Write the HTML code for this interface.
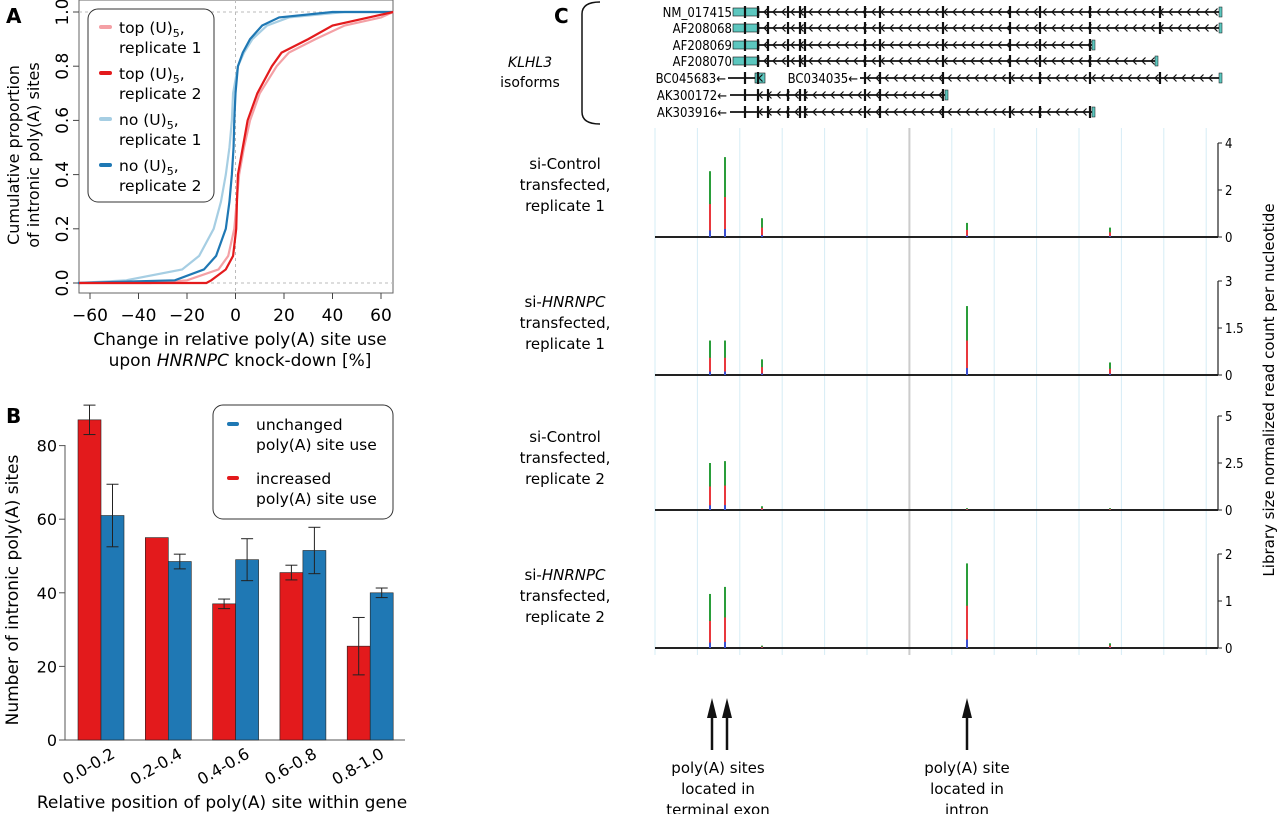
<!DOCTYPE html>
<html><head><meta charset="utf-8"><style>
html,body{margin:0;padding:0;background:#fff}
svg{display:block;font-family:"DejaVu Sans","Liberation Sans",sans-serif}
.c{font-family:"DejaVu Sans Condensed","Liberation Sans Narrow","Liberation Sans",sans-serif}
</style></head><body>
<svg id="fig" width="1280" height="814" viewBox="0 0 1280 814" xmlns="http://www.w3.org/2000/svg">
<g id="pA"></g>
<g id="pB"></g>
<g id="pC"></g>
</svg>
<script>
// ---------- Panel A data ----------
const cdfLevels=[0,0.01,0.05,0.1,0.2,0.3,0.4,0.5,0.6,0.7,0.8,0.85,0.9,0.95,0.98,1.0];
const topRep1X=[-35,-20,-7,-3,-0.5,0.5,1.5,3.5,6,10,17,22,33,45,60,65];
const topRep2X=[-12,-10,-4,-1,0.3,0.6,1,3,5,9,15,19,30,40,55,65];
const noRep1X=[-65,-45,-22,-15,-9,-6,-4,-2.5,-1.5,-1,1,3.5,7,13,22,45];
const noRep2X=[-65,-25,-13,-8,-4,-2.5,-1.5,-0.8,-0.5,0,1,3,6,11,18,40];
const aXTicks=[-60,-40,-20,0,20,40,60];
const aYTicks=[0,0.2,0.4,0.6,0.8,1.0];
// ---------- Panel B data ----------
const bCategories=["0.0-0.2","0.2-0.4","0.4-0.6","0.6-0.8","0.8-1.0"];
const increasedVals=[87,55,37,45.5,25.5];
const increasedErr=[4,0,1.3,2,7.8];
const unchangedVals=[61,48.5,49,51.5,40];
const unchangedErr=[8.5,2,5.7,6.3,1.3];
const bYTicks=[0,20,40,60,80];
// ---------- Panel C data ----------
const isoformNames=["NM_017415","AF208068","AF208069","AF208070","BC045683","AK300172","AK303916"];
const trackMax=[4,3,5,2];
const trackTickLabels=[["0","2","4"],["0","1.5","3"],["0","2.5","5"],["0","1","2"]];
const peakPos=[710,725,762,967,1110];
const track1Vals=[2.8,3.4,0.8,0.6,0.4];
const track2Vals=[1.1,1.1,0.5,2.2,0.4];
const track3Vals=[2.5,2.6,0.2,0.1,0.1];
const track4Vals=[1.15,1.3,0.05,1.8,0.1];

const NS="http://www.w3.org/2000/svg";
function mk(parent,tag,attrs,text){const e=document.createElementNS(NS,tag);for(const k in attrs)e.setAttribute(k,attrs[k]);if(text!==undefined)e.textContent=text;parent.appendChild(e);return e;}

// ===== Panel A =====
const A=document.getElementById('pA');
const ax=v=>90+(v+60)*(291/120), ay=v=>283-v*271;
let t=mk(A,'text',{x:6,y:23,'font-size':20,'font-weight':'bold'},'A');

let r=mk(A,'rect',{x:79,y:0,width:314,height:293,fill:'none',stroke:'#666','stroke-width':1});

[ay(0),ay(1)].forEach(y=>{const l=mk(A,'line',{x1:79,x2:393,y1:y,y2:y,stroke:'#bbb','stroke-dasharray':'3,3'});});
let vl=mk(A,'line',{x1:ax(0),x2:ax(0),y1:0,y2:293,stroke:'#bbb','stroke-dasharray':'3,3'});

aXTicks.forEach(v=>{mk(A,'line',{x1:ax(v),x2:ax(v),y1:293,y2:299,stroke:'#444'});const tx=mk(A,'text',{x:ax(v),y:321,'font-size':17,'text-anchor':'middle'},v<0?'\u2212'+(-v):String(v));});
aYTicks.forEach(v=>{mk(A,'line',{x1:73,x2:79,y1:ay(v),y2:ay(v),stroke:'#444'});const tx=mk(A,'text',{x:0,y:0,'font-size':17,'text-anchor':'middle',transform:`translate(68,${ay(v)}) rotate(-90)`},v.toFixed(1));});
t=mk(A,'text',{'font-size':16,'text-anchor':'middle',transform:'translate(19,155) rotate(-90)'},'Cumulative proportion');

t=mk(A,'text',{'font-size':16,'text-anchor':'middle',transform:'translate(39,155) rotate(-90)'},'of intronic poly(A) sites');

t=mk(A,'text',{x:240,y:345,'font-size':17,'text-anchor':'middle'},'Change in relative poly(A) site use');

t=mk(A,'text',{x:240,y:366,'font-size':17,'text-anchor':'middle'});
t.innerHTML='upon <tspan font-style="italic">HNRNPC</tspan> knock-down [%]';

const series=[[noRep1X,'#a6cee3','no-u5-rep1'],[topRep1X,'#f4a0a5','top-u5-rep1'],[noRep2X,'#1f78b4','no-u5-rep2'],[topRep2X,'#e31a1c','top-u5-rep2']];
series.forEach(([xs,col,nm])=>{let d='M79,'+ay(0);xs.forEach((x,i)=>{d+=` L${ax(x)},${ay(cdfLevels[i])}`;});d+=` L393,${ay(1)}`;const p=mk(A,'path',{d:d,fill:'none',stroke:col,'stroke-width':2.2});});
let lg=mk(A,'g',{});
mk(lg,'rect',{x:88,y:9,width:126,height:193,rx:10,fill:'#fff',stroke:'#333'});
[['top (U)','replicate 1','#f4a0a5'],['top (U)','replicate 2','#e31a1c'],['no (U)','replicate 1','#a6cee3'],['no (U)','replicate 2','#1f78b4']].forEach((e,i)=>{const y=27+i*46;const g=mk(lg,'g',{});mk(g,'line',{x1:101,x2:110,y1:y,y2:y,stroke:e[2],'stroke-width':4,'stroke-linecap':'round'});const tt=mk(g,'text',{x:119,y:y+6,'font-size':15.5});tt.innerHTML=e[0]+'<tspan font-size="11" dy="4">5</tspan><tspan dy="-4">,</tspan>';mk(g,'text',{x:119,y:y+26,'font-size':15.5},e[1]);});

// ===== Panel B =====
const B=document.getElementById('pB');
const by=v=>740-v*3.68;
t=mk(B,'text',{x:6,y:423,'font-size':20,'font-weight':'bold'},'B');

mk(B,'line',{x1:65,x2:65,y1:445,y2:740,stroke:'#555'});
mk(B,'line',{x1:65,x2:405,y1:740,y2:740,stroke:'#555'});
bYTicks.forEach(v=>{mk(B,'line',{x1:59,x2:65,y1:by(v),y2:by(v),stroke:'#555'});const tx=mk(B,'text',{x:57,y:by(v)+6,'font-size':16,'text-anchor':'end'},String(v));});
bCategories.forEach((c,i)=>{const x0=78+i*67.3;
 [[increasedVals,increasedErr,'#e31a1c',x0,'increased'],[unchangedVals,unchangedErr,'#1f78b4',x0+23,'unchanged']].forEach(([vals,err,col,x,nm])=>{const b=mk(B,'rect',{x:x,y:by(vals[i]),width:23,height:740-by(vals[i]),fill:col,stroke:'#222','stroke-width':0.6});
 if(err[i]>0){const cx=x+11.5;const g=mk(B,'g',{stroke:'#222','stroke-width':1});mk(g,'line',{x1:cx,x2:cx,y1:by(vals[i]+err[i]),y2:by(vals[i]-err[i])});mk(g,'line',{x1:cx-6,x2:cx+6,y1:by(vals[i]+err[i]),y2:by(vals[i]+err[i])});mk(g,'line',{x1:cx-6,x2:cx+6,y1:by(vals[i]-err[i]),y2:by(vals[i]-err[i])});}});
 const tx=mk(B,'text',{'font-size':16,'text-anchor':'end',transform:`translate(${x0+38},${757}) rotate(-30)`},c);});
t=mk(B,'text',{x:222,y:808,'font-size':17,'text-anchor':'middle'},'Relative position of poly(A) site within gene');

t=mk(B,'text',{'font-size':17,'text-anchor':'middle',transform:'translate(18,590) rotate(-90)'},'Number of intronic poly(A) sites');

lg=mk(B,'g',{});
mk(lg,'rect',{x:213,y:405,width:180,height:114,rx:10,fill:'#fff',stroke:'#333'});
[['unchanged','#1f78b4',424],['increased','#e31a1c',478]].forEach(([w,col,y])=>{mk(lg,'line',{x1:229,x2:237,y1:y,y2:y,stroke:col,'stroke-width':4,'stroke-linecap':'round'});mk(lg,'text',{x:256,y:y+6,'font-size':15.5},w);mk(lg,'text',{x:256,y:y+26,'font-size':15.5},'poly(A) site use');});

// ===== Panel C =====
const C=document.getElementById('pC');
t=mk(C,'text',{x:554,y:23,'font-size':20,'font-weight':'bold'},'C');

t=mk(C,'path',{d:'M600,2 Q582,2 582,14 L582,112 Q582,124 600,124',fill:'none',stroke:'#111','stroke-width':1.5});

t=mk(C,'text',{x:530,y:67,'font-size':14,'text-anchor':'middle','font-style':'italic'},'KLHL3');

t=mk(C,'text',{x:530,y:87,'font-size':14,'text-anchor':'middle'},'isoforms');

for(let i=0;i<14;i++){const x=655+i*42.4;const l=mk(C,'line',{x1:x,x2:x,y1:128,y2:655,stroke:i==6?'#ccc':'#d6ecf6','stroke-width':i==6?2:1});}
const isoY=[12,28,45,61,78,95,112];
const isoStart=[735,735,735,735,730,730,730];
const isoEnd=[1222,1222,1095,1158,1222,948,1095];
const exonX=[745,758,768,788,800,805,865,880,943,1010,1040,1090,1160];
isoformNames.forEach((n,i)=>{const g=mk(C,'g',{class:'c'});const y=isoY[i];
 if(i==4){mk(g,'text',{x:726,y:y+5,'font-size':13,'text-anchor':'end'},n+'←');mk(g,'line',{x1:728,x2:762,y1:y,y2:y,stroke:'#111','stroke-width':1.8});mk(g,'rect',{x:755,y:y-5,width:10,height:10,fill:'#5cc7bf',stroke:'#111','stroke-width':0.6});mk(g,'text',{x:858,y:y+5,'font-size':13,'text-anchor':'end'},'BC034035←');mk(g,'line',{x1:860,x2:1222,y1:y,y2:y,stroke:'#111','stroke-width':1.8});}
 else{mk(g,'text',{x:isoStart[i]-3,y:y+5,'font-size':13,'text-anchor':'end'},n+(i<4?'':'←'));mk(g,'line',{x1:isoStart[i],x2:isoEnd[i],y1:y,y2:y,stroke:'#111','stroke-width':1.8});}
 if(i<4)mk(g,'rect',{x:733,y:y-4,width:26,height:8,fill:'#5cc7bf',stroke:'#111','stroke-width':0.6});
 exonX.forEach(x=>{if(x<isoEnd[i]&&x>isoStart[i]+5&&!(i==4&&x>765&&x<860))mk(g,'line',{x1:x,x2:x,y1:y-6,y2:y+6,stroke:'#111','stroke-width':2.2});});
 for(let x=isoStart[i]+30;x<isoEnd[i]-4;x+=9){if(i==4&&x>762&&x<862)continue;mk(g,'path',{d:`M${x+2.5},${y-3.5} L${x-1},${y} L${x+2.5},${y+3.5}`,fill:'none',stroke:'#111','stroke-width':1.2});}
 mk(g,'rect',{x:isoEnd[i]-3,y:y-5,width:3,height:10,fill:'#5cc7bf',stroke:'#111','stroke-width':0.5});});
const baseY=[237,375,510,648];
const trackVals=[track1Vals,track2Vals,track3Vals,track4Vals];
const labels=[['si-Control',false],['si-HNRNPC',true],['si-Control',false],['si-HNRNPC',true]];
baseY.forEach((b,k)=>{const g=mk(C,'g',{});
 const h=94;const ty=v=>b-v/trackMax[k]*h;
 mk(g,'line',{x1:655,x2:1218,y1:b,y2:b,stroke:'#222','stroke-width':2});
 mk(g,'line',{x1:1218,x2:1218,y1:b,y2:b-h,stroke:'#222','stroke-width':1.2});
 [0,0.5,1].forEach((f,j)=>{mk(g,'line',{x1:1218,x2:1222,y1:b-f*h,y2:b-f*h,stroke:'#222'});mk(g,'text',{x:1225,y:b-f*h+5,'font-size':13,class:'c'},trackTickLabels[k][j]);});
 peakPos.forEach((x,i)=>{const v=trackVals[k][i];mk(g,'line',{x1:x,x2:x,y1:b,y2:ty(v),stroke:'#2a9d3a','stroke-width':2});mk(g,'line',{x1:x,x2:x,y1:b,y2:ty(v*0.5),stroke:'#e8383d','stroke-width':2});mk(g,'line',{x1:x,x2:x,y1:b,y2:ty(v*0.1),stroke:'#3a4fd0','stroke-width':2});});
 const tx=mk(g,'text',{x:565,y:b-68,'font-size':15,'text-anchor':'middle'});tx.innerHTML=labels[k][1]?'si-<tspan font-style="italic">HNRNPC</tspan>':'si-Control';
 mk(g,'text',{x:565,y:b-47,'font-size':15,'text-anchor':'middle'},'transfected,');
 mk(g,'text',{x:565,y:b-26,'font-size':15,'text-anchor':'middle'},'replicate '+(k<2?1:2));});
t=mk(C,'text',{'font-size':15,'text-anchor':'middle',transform:'translate(1274,390) rotate(-90)'},'Library size normalized read count per nucleotide');

[712,727,967].forEach(x=>{const g=mk(C,'g',{});mk(g,'line',{x1:x,x2:x,y1:750,y2:706,stroke:'#111','stroke-width':2.5});mk(g,'path',{d:`M${x-5},${718} L${x},${698} L${x+5},${718} Z`,fill:'#111'});});
[['poly(A) sites','located in','terminal exon',718],['poly(A) site','located in','intron',967]].forEach(a=>{for(let j=0;j<3;j++){const tx=mk(C,'text',{x:a[3],y:773+j*21,'font-size':15,'text-anchor':'middle'},a[j]);}});
</script>
</body></html>
